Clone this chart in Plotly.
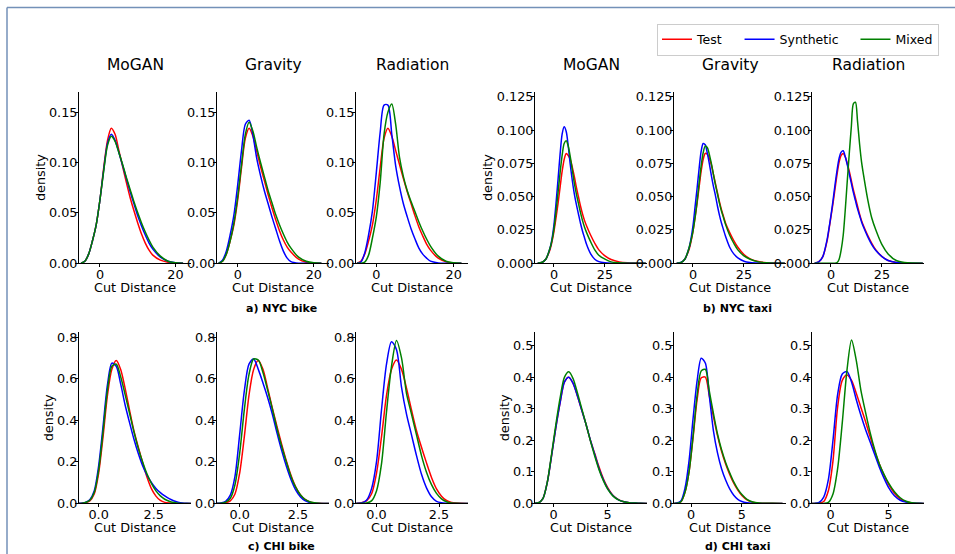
import plotly.graph_objects as go

W, H = 955, 554

SERIES = ["Test", "Synthetic", "Mixed"]
SERIES_COLORS = ["#ff0000", "#0000ff", "#008000"]
MODELS = ["MoGAN", "Gravity", "Radiation"]
DATASETS = ["a) NYC bike", "b) NYC taxi", "c) CHI bike", "d) CHI taxi"]

# ---- NYC bike: density of cut distance -------------------------------------
NYC_BIKE_X = [-5, -4, -3, -2, -1, 0, 1, 2, 3, 4, 5, 6, 7, 8, 9, 10, 11, 12, 13, 14, 16, 18, 20, 22]
NYC_BIKE_MOGAN_TEST = [0, 0.002, 0.009, 0.022, 0.038, 0.063, 0.095, 0.122, 0.134, 0.128, 0.112, 0.096, 0.080, 0.065, 0.052, 0.040, 0.029, 0.020, 0.013, 0.008, 0.003, 0.001, 0.0002, 0]
NYC_BIKE_MOGAN_SYN = [0, 0.002, 0.009, 0.022, 0.038, 0.063, 0.093, 0.119, 0.128, 0.122, 0.110, 0.097, 0.084, 0.071, 0.059, 0.047, 0.037, 0.028, 0.020, 0.014, 0.006, 0.002, 0.0004, 0]
NYC_BIKE_MOGAN_MIX = [0, 0.002, 0.009, 0.022, 0.038, 0.063, 0.092, 0.117, 0.126, 0.121, 0.110, 0.098, 0.085, 0.073, 0.061, 0.050, 0.040, 0.031, 0.023, 0.016, 0.007, 0.002, 0.0005, 0]
NYC_BIKE_GRAVITY_TEST = [0, 0.002, 0.009, 0.022, 0.038, 0.063, 0.095, 0.124, 0.134, 0.126, 0.111, 0.096, 0.082, 0.068, 0.055, 0.043, 0.032, 0.023, 0.016, 0.011, 0.004, 0.001, 0.0002, 0]
NYC_BIKE_GRAVITY_SYN = [0, 0.003, 0.012, 0.028, 0.048, 0.078, 0.112, 0.138, 0.142, 0.127, 0.104, 0.087, 0.072, 0.059, 0.046, 0.034, 0.022, 0.012, 0.005, 0.0015, 0, 0, 0, 0]
NYC_BIKE_GRAVITY_MIX = [0, 0.002, 0.009, 0.022, 0.040, 0.066, 0.098, 0.128, 0.140, 0.131, 0.115, 0.100, 0.086, 0.072, 0.060, 0.048, 0.038, 0.029, 0.021, 0.015, 0.006, 0.002, 0.0004, 0]
NYC_BIKE_RADIATION_TEST = [0, 0.002, 0.009, 0.022, 0.038, 0.063, 0.095, 0.124, 0.134, 0.126, 0.112, 0.098, 0.084, 0.071, 0.059, 0.047, 0.036, 0.027, 0.019, 0.013, 0.005, 0.0015, 0.0003, 0]
NYC_BIKE_RADIATION_SYN = [0, 0.001, 0.010, 0.028, 0.052, 0.090, 0.130, 0.157, 0.157, 0.128, 0.097, 0.076, 0.059, 0.046, 0.034, 0.024, 0.015, 0.009, 0.005, 0.002, 0.0003, 0, 0, 0]
NYC_BIKE_RADIATION_MIX = [0, 0, 0.001, 0.008, 0.025, 0.046, 0.080, 0.128, 0.150, 0.158, 0.138, 0.105, 0.086, 0.072, 0.061, 0.051, 0.041, 0.032, 0.024, 0.017, 0.007, 0.002, 0.0005, 0]

# ---- NYC taxi ----------------------------------------------------------------
NYC_TAXI_X = [-8, -6, -4, -2, -1, 0, 1, 2, 3, 4, 5, 6, 7, 8, 9, 10, 11, 12, 13, 14, 15, 16, 18, 20, 22, 25, 28, 32, 36, 40, 45]
NYC_TAXI_MOGAN_TEST = [0, 0.0005, 0.003, 0.010, 0.016, 0.024, 0.034, 0.045, 0.057, 0.069, 0.078, 0.0825, 0.081, 0.078, 0.072, 0.065, 0.057, 0.050, 0.043, 0.037, 0.032, 0.028, 0.021, 0.015, 0.010, 0.0055, 0.0028, 0.001, 0.0003, 0.0001, 0]
NYC_TAXI_MOGAN_SYN = [0, 0.0005, 0.003, 0.011, 0.018, 0.029, 0.045, 0.063, 0.082, 0.097, 0.1025, 0.099, 0.088, 0.074, 0.062, 0.052, 0.044, 0.037, 0.030, 0.024, 0.019, 0.014, 0.007, 0.003, 0.0012, 0.0003, 0, 0, 0, 0, 0]
NYC_TAXI_MOGAN_MIX = [0, 0.0005, 0.003, 0.011, 0.017, 0.026, 0.039, 0.053, 0.068, 0.081, 0.090, 0.092, 0.088, 0.080, 0.070, 0.060, 0.052, 0.045, 0.038, 0.032, 0.027, 0.023, 0.016, 0.010, 0.006, 0.003, 0.001, 0.0003, 0, 0, 0]
NYC_TAXI_GRAVITY_TEST = [0, 0.0004, 0.003, 0.010, 0.016, 0.024, 0.034, 0.045, 0.057, 0.069, 0.078, 0.0825, 0.082, 0.079, 0.074, 0.067, 0.060, 0.053, 0.046, 0.040, 0.035, 0.030, 0.023, 0.017, 0.012, 0.0065, 0.0033, 0.0012, 0.0004, 0.0001, 0]
NYC_TAXI_GRAVITY_SYN = [0, 0.0005, 0.003, 0.011, 0.018, 0.028, 0.042, 0.056, 0.071, 0.084, 0.090, 0.089, 0.083, 0.075, 0.066, 0.058, 0.051, 0.043, 0.036, 0.030, 0.025, 0.020, 0.012, 0.007, 0.004, 0.0015, 0.0005, 0.0001, 0, 0, 0]
NYC_TAXI_GRAVITY_MIX = [0, 0.0004, 0.003, 0.011, 0.017, 0.024, 0.034, 0.046, 0.060, 0.073, 0.083, 0.088, 0.087, 0.082, 0.075, 0.067, 0.059, 0.052, 0.045, 0.039, 0.034, 0.029, 0.021, 0.015, 0.010, 0.0055, 0.003, 0.001, 0.0003, 0, 0]
NYC_TAXI_RADIATION_TEST = [0, 0.001, 0.005, 0.016, 0.025, 0.035, 0.045, 0.056, 0.067, 0.076, 0.081, 0.0825, 0.080, 0.075, 0.069, 0.062, 0.055, 0.049, 0.043, 0.037, 0.032, 0.028, 0.021, 0.015, 0.010, 0.005, 0.002, 0.0005, 0.0001, 0, 0]
NYC_TAXI_RADIATION_SYN = [0, 0.001, 0.005, 0.017, 0.026, 0.036, 0.047, 0.059, 0.070, 0.079, 0.0835, 0.0845, 0.080, 0.074, 0.067, 0.060, 0.053, 0.047, 0.041, 0.036, 0.031, 0.027, 0.020, 0.014, 0.0095, 0.005, 0.002, 0.0005, 0.0001, 0, 0]
NYC_TAXI_RADIATION_MIX = [0, 0, 0, 0, 0, 0, 0, 0, 0.0005, 0.003, 0.010, 0.021, 0.040, 0.062, 0.083, 0.103, 0.120, 0.121, 0.107, 0.090, 0.076, 0.066, 0.048, 0.034, 0.025, 0.014, 0.007, 0.002, 0.0005, 0.0001, 0]

# ---- CHI bike ----------------------------------------------------------------
CHI_BIKE_X = [-1.0, -0.8, -0.6, -0.4, -0.2, 0.0, 0.2, 0.4, 0.6, 0.8, 1.0, 1.2, 1.4, 1.6, 1.8, 2.0, 2.2, 2.4, 2.6, 2.8, 3.0, 3.2, 3.4, 3.6, 3.8, 4.0, 4.2]
CHI_BIKE_MOGAN_TEST = [0, 0, 0.003, 0.012, 0.045, 0.145, 0.32, 0.52, 0.645, 0.688, 0.645, 0.555, 0.45, 0.35, 0.27, 0.195, 0.125, 0.07, 0.035, 0.014, 0.005, 0.0015, 0.0004, 0, 0, 0, 0]
CHI_BIKE_MOGAN_SYN = [0, 0.001, 0.005, 0.018, 0.06, 0.18, 0.37, 0.57, 0.675, 0.66, 0.575, 0.475, 0.39, 0.31, 0.24, 0.18, 0.135, 0.10, 0.072, 0.052, 0.036, 0.023, 0.013, 0.006, 0.002, 0.0005, 0]
CHI_BIKE_MOGAN_MIX = [0, 0, 0.004, 0.015, 0.052, 0.16, 0.345, 0.545, 0.66, 0.67, 0.61, 0.525, 0.435, 0.345, 0.265, 0.198, 0.14, 0.095, 0.06, 0.036, 0.02, 0.01, 0.004, 0.001, 0, 0, 0]
CHI_BIKE_GRAVITY_TEST = [0, 0, 0.003, 0.012, 0.045, 0.145, 0.32, 0.52, 0.645, 0.688, 0.645, 0.555, 0.46, 0.37, 0.285, 0.205, 0.135, 0.08, 0.042, 0.019, 0.007, 0.002, 0.0005, 0, 0, 0, 0]
CHI_BIKE_GRAVITY_SYN = [0, 0.002, 0.01, 0.04, 0.13, 0.33, 0.54, 0.67, 0.695, 0.645, 0.58, 0.51, 0.43, 0.34, 0.255, 0.18, 0.115, 0.065, 0.032, 0.013, 0.004, 0.001, 0, 0, 0, 0, 0]
CHI_BIKE_GRAVITY_MIX = [0, 0.001, 0.006, 0.025, 0.09, 0.24, 0.45, 0.62, 0.695, 0.69, 0.63, 0.545, 0.455, 0.36, 0.275, 0.20, 0.13, 0.078, 0.042, 0.02, 0.008, 0.003, 0.001, 0, 0, 0, 0]
CHI_BIKE_RADIATION_TEST = [0, 0, 0.003, 0.012, 0.045, 0.145, 0.32, 0.52, 0.645, 0.69, 0.645, 0.555, 0.45, 0.35, 0.27, 0.195, 0.125, 0.07, 0.035, 0.014, 0.005, 0.0015, 0.0004, 0, 0, 0, 0]
CHI_BIKE_RADIATION_SYN = [0, 0, 0.002, 0.015, 0.07, 0.20, 0.45, 0.67, 0.778, 0.74, 0.56, 0.43, 0.33, 0.23, 0.14, 0.075, 0.032, 0.01, 0.003, 0.001, 0, 0, 0, 0, 0, 0, 0]
CHI_BIKE_RADIATION_MIX = [0, 0, 0, 0.002, 0.012, 0.06, 0.19, 0.44, 0.66, 0.784, 0.70, 0.53, 0.43, 0.33, 0.23, 0.15, 0.09, 0.048, 0.022, 0.008, 0.002, 0.0005, 0, 0, 0, 0, 0]

# ---- CHI taxi ----------------------------------------------------------------
CHI_TAXI_X = [-1.8, -1.4, -1.0, -0.6, -0.2, 0.2, 0.6, 1.0, 1.4, 1.8, 2.2, 2.6, 3.0, 3.4, 3.8, 4.2, 4.6, 5.0, 5.5, 6.0, 6.5, 7.0, 7.5, 8.0, 9.0]
CHI_TAXI_MOGAN_TEST = [0, 0.002, 0.015, 0.065, 0.15, 0.24, 0.32, 0.385, 0.40, 0.38, 0.34, 0.295, 0.25, 0.20, 0.158, 0.115, 0.078, 0.05, 0.025, 0.012, 0.005, 0.002, 0.001, 0.0003, 0]
CHI_TAXI_MOGAN_SYN = [0, 0.002, 0.015, 0.065, 0.15, 0.24, 0.32, 0.385, 0.40, 0.38, 0.34, 0.295, 0.25, 0.20, 0.155, 0.11, 0.075, 0.047, 0.024, 0.011, 0.005, 0.002, 0.001, 0.0003, 0]
CHI_TAXI_MOGAN_MIX = [0, 0.002, 0.015, 0.066, 0.155, 0.25, 0.335, 0.40, 0.417, 0.395, 0.35, 0.30, 0.25, 0.198, 0.15, 0.107, 0.072, 0.045, 0.023, 0.011, 0.005, 0.002, 0.001, 0.0003, 0]
CHI_TAXI_GRAVITY_TEST = [0, 0.0005, 0.005, 0.035, 0.10, 0.21, 0.33, 0.398, 0.40, 0.34, 0.275, 0.215, 0.165, 0.125, 0.092, 0.064, 0.042, 0.025, 0.011, 0.004, 0.0015, 0.0005, 0.0002, 0.0001, 0]
CHI_TAXI_GRAVITY_SYN = [0, 0.001, 0.008, 0.048, 0.135, 0.27, 0.39, 0.46, 0.445, 0.34, 0.23, 0.16, 0.11, 0.074, 0.046, 0.026, 0.013, 0.006, 0.002, 0.0005, 0, 0, 0, 0, 0]
CHI_TAXI_GRAVITY_MIX = [0, 0.0005, 0.005, 0.035, 0.10, 0.215, 0.345, 0.42, 0.425, 0.355, 0.285, 0.22, 0.17, 0.13, 0.097, 0.068, 0.045, 0.028, 0.013, 0.005, 0.002, 0.0006, 0.0002, 0.0001, 0]
CHI_TAXI_RADIATION_TEST = [0, 0, 0.001, 0.006, 0.04, 0.135, 0.305, 0.39, 0.407, 0.39, 0.35, 0.305, 0.26, 0.212, 0.165, 0.125, 0.09, 0.06, 0.032, 0.014, 0.005, 0.0015, 0.0004, 0, 0]
CHI_TAXI_RADIATION_SYN = [0, 0, 0.003, 0.02, 0.075, 0.20, 0.345, 0.41, 0.418, 0.385, 0.33, 0.28, 0.235, 0.195, 0.155, 0.115, 0.08, 0.05, 0.024, 0.01, 0.004, 0.001, 0.0003, 0, 0]
CHI_TAXI_RADIATION_MIX = [0, 0, 0, 0, 0.003, 0.03, 0.11, 0.255, 0.42, 0.518, 0.455, 0.36, 0.29, 0.225, 0.17, 0.125, 0.092, 0.064, 0.037, 0.018, 0.007, 0.002, 0.0005, 0, 0]

# Axis ticks per dataset
NYC_BIKE_XTICKS = [0, 20]
NYC_BIKE_YTICKS = [0.0, 0.05, 0.10, 0.15]
NYC_TAXI_XTICKS = [0, 25]
NYC_TAXI_YTICKS = [0.0, 0.025, 0.050, 0.075, 0.100, 0.125]
CHI_BIKE_XTICKS = [0.0, 2.5]
CHI_BIKE_YTICKS = [0.0, 0.2, 0.4, 0.6, 0.8]
CHI_TAXI_XTICKS = [0, 5]
CHI_TAXI_YTICKS = [0.0, 0.1, 0.2, 0.3, 0.4, 0.5]

# ---- panel assembly -----------------------------------------------------------
datasets = [
    dict(x=NYC_BIKE_X, xt=NYC_BIKE_XTICKS, yt=NYC_BIKE_YTICKS, xfmt="d", yfmt=".2f", ymax=0.170,
         xranges=[[-5.55, 24.1], [-5.45, 24.0], [-5.25, 23.7]],
         curves=[[NYC_BIKE_MOGAN_TEST, NYC_BIKE_MOGAN_SYN, NYC_BIKE_MOGAN_MIX],
                 [NYC_BIKE_GRAVITY_TEST, NYC_BIKE_GRAVITY_SYN, NYC_BIKE_GRAVITY_MIX],
                 [NYC_BIKE_RADIATION_TEST, NYC_BIKE_RADIATION_SYN, NYC_BIKE_RADIATION_MIX]]),
    dict(x=NYC_TAXI_X, xt=NYC_TAXI_XTICKS, yt=NYC_TAXI_YTICKS, xfmt="d", yfmt=".3f", ymax=0.1287,
         xranges=[[-9.3, 45.6], [-9.3, 45.6], [-9.3, 45.6]],
         curves=[[NYC_TAXI_MOGAN_TEST, NYC_TAXI_MOGAN_SYN, NYC_TAXI_MOGAN_MIX],
                 [NYC_TAXI_GRAVITY_TEST, NYC_TAXI_GRAVITY_SYN, NYC_TAXI_GRAVITY_MIX],
                 [NYC_TAXI_RADIATION_TEST, NYC_TAXI_RADIATION_SYN, NYC_TAXI_RADIATION_MIX]]),
    dict(x=CHI_BIKE_X, xt=CHI_BIKE_XTICKS, yt=CHI_BIKE_YTICKS, xfmt=".1f", yfmt=".1f", ymax=0.824,
         xranges=[[-0.89, 4.19], [-0.97, 3.83], [-0.82, 3.66]],
         curves=[[CHI_BIKE_MOGAN_TEST, CHI_BIKE_MOGAN_SYN, CHI_BIKE_MOGAN_MIX],
                 [CHI_BIKE_GRAVITY_TEST, CHI_BIKE_GRAVITY_SYN, CHI_BIKE_GRAVITY_MIX],
                 [CHI_BIKE_RADIATION_TEST, CHI_BIKE_RADIATION_SYN, CHI_BIKE_RADIATION_MIX]]),
    dict(x=CHI_TAXI_X, xt=CHI_TAXI_XTICKS, yt=CHI_TAXI_YTICKS, xfmt="d", yfmt=".1f", ymax=0.5425,
         xranges=[[-1.73, 8.64], [-1.68, 9.34], [-1.61, 8.05]],
         curves=[[CHI_TAXI_MOGAN_TEST, CHI_TAXI_MOGAN_SYN, CHI_TAXI_MOGAN_MIX],
                 [CHI_TAXI_GRAVITY_TEST, CHI_TAXI_GRAVITY_SYN, CHI_TAXI_GRAVITY_MIX],
                 [CHI_TAXI_RADIATION_TEST, CHI_TAXI_RADIATION_SYN, CHI_TAXI_RADIATION_MIX]]),
]

# panel geometry in pixels
PANEL_W, PANEL_H = 112, 171.2
GROUP_LEFT = [[79, 217, 356], [535, 674, 812]]
ROW_TOP = [92, 332.2]
DENSITY_LABEL_X = [40, 487, 48, 504]
CAPTION_X = [281, 737]
XLABEL_Y = [287, 527]
TITLE_Y = 64.5

FONT = "DejaVu Sans"
LABEL_SIZE = 12.8
NBSP = "\u00a0"
# trailing spacing keeps the legend entries as far apart as the column layout needs
LEGEND_PAD = [NBSP * 3, NBSP * 3, ""]


def px(x):
    return x / W


def py(y):
    return 1 - y / H


fig = go.Figure()
layout = {}
annotations = []

n = 0
for d_idx, ds in enumerate(datasets):
    row, gcol = divmod(d_idx, 2)
    for m_idx in range(3):
        n += 1
        sfx = "" if n == 1 else str(n)
        left = GROUP_LEFT[gcol][m_idx]
        top = ROW_TOP[row]
        for s_idx, name in enumerate(SERIES):
            fig.add_trace(go.Scatter(
                x=ds["x"], y=ds["curves"][m_idx][s_idx],
                mode="lines", name=name + LEGEND_PAD[s_idx], legendgroup=name,
                showlegend=(n == 1),
                line=dict(color=SERIES_COLORS[s_idx], width=1.5, shape="spline", smoothing=0.8),
                xaxis="x" + sfx, yaxis="y" + sfx,
            ))
        axis_common = dict(
            showline=True, linecolor="black", linewidth=1,
            ticks="outside", ticklen=3, tickwidth=1, tickcolor="black",
            showgrid=False, zeroline=False, automargin=False,
            tickfont=dict(family=FONT, size=LABEL_SIZE, color="black"),
        )
        layout["xaxis" + sfx] = dict(
            domain=[px(left), px(left + PANEL_W)], anchor="y" + sfx,
            range=ds["xranges"][m_idx], tickvals=ds["xt"], tickformat=ds["xfmt"],
            ticklabelstandoff=-4,
            **axis_common,
        )
        layout["yaxis" + sfx] = dict(
            domain=[py(top + PANEL_H), py(top)], anchor="x" + sfx,
            range=[0, ds["ymax"]], tickvals=ds["yt"], tickformat=ds["yfmt"],
            ticklabelstandoff=-5,
            **axis_common,
        )
        cx = left + PANEL_W / 2
        annotations.append(dict(
            text="Cut Distance", x=px(cx), y=py(XLABEL_Y[row]), xref="paper", yref="paper",
            showarrow=False, xanchor="center", yanchor="middle",
            font=dict(family=FONT, size=LABEL_SIZE, color="black"),
        ))
        if row == 0:
            annotations.append(dict(
                text=MODELS[m_idx], x=px(cx), y=py(TITLE_Y), xref="paper", yref="paper",
                showarrow=False, xanchor="center", yanchor="middle",
                font=dict(family=FONT, size=15.5, color="black"),
            ))
    # dataset caption (below each group) and y-axis label
    if row == 0:
        cap_pos = dict(y=py(308.5), yanchor="middle")
    else:
        cap_pos = dict(y=0, yanchor="bottom")
    annotations.append(dict(
        text="<b>" + DATASETS[d_idx] + "</b>", x=px(CAPTION_X[gcol]),
        xref="paper", yref="paper", showarrow=False, xanchor="center", borderpad=0,
        font=dict(family=FONT, size=11, color="black"), **cap_pos,
    ))
    annotations.append(dict(
        text="density", x=px(DENSITY_LABEL_X[d_idx]),
        y=py(ROW_TOP[row] + PANEL_H / 2 + 0.5), xref="paper", yref="paper",
        showarrow=False, xanchor="center", yanchor="middle", textangle=-90,
        font=dict(family=FONT, size=LABEL_SIZE, color="black"),
    ))

# thin border along the top and left edges of the figure
shapes = [
    dict(type="line", xref="paper", yref="paper", x0=px(7), x1=px(7), y0=0, y1=py(7.5),
         line=dict(color="#7391b8", width=1.5)),
    dict(type="line", xref="paper", yref="paper", x0=px(7), x1=1, y0=py(7.5), y1=py(7.5),
         line=dict(color="#7391b8", width=1.5)),
]

fig.update_layout(
    width=W, height=H, autosize=False,
    margin=dict(l=0, r=0, t=0, b=0, pad=0, autoexpand=False),
    paper_bgcolor="white", plot_bgcolor="white",
    font=dict(family=FONT, size=LABEL_SIZE, color="black"),
    showlegend=True,
    legend=dict(
        orientation="h", x=px(939), xanchor="right", y=py(23.5), yanchor="top",
        bordercolor="#cccccc", borderwidth=1, bgcolor="white",
        font=dict(family=FONT, size=12.5, color="black"),
    ),
    annotations=annotations,
    shapes=shapes,
    **layout,
)

fig.write_html("out.html")
